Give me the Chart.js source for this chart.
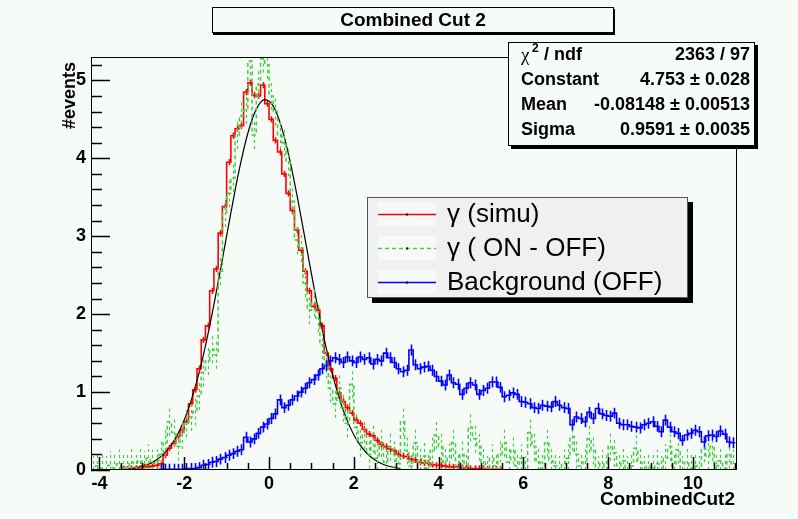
<!DOCTYPE html>
<html>
<head>
<meta charset="utf-8">
<script src="https://cdn.jsdelivr.net/npm/chart.js@4.4.0/dist/chart.umd.min.js"></script>
<style>
    html, body { margin: 0; padding: 0; background: #f7fbf8; }
</style>
</head>
<body>
<canvas id="combinedCut" width="798" height="519"></canvas>
<script>
// histogram binning (CombinedCut2)
var binW = 0.1;
var xMin = -4.2, xMax = 11.04;
var yMin = 0, yMax = 5.3;

// gamma (simu), first bin starts at -3.5
var redStart = -3.5;
var redSimu = [
    0.01, 0.01, 0.02, 0.02, 0.02, 0.04, 0.04, 0.05, 0.06, 0.08,
    0.19, 0.28, 0.34, 0.43, 0.51, 0.62, 0.85, 1.03, 1.30, 1.67,
    1.85, 2.30, 2.58, 3.04, 3.38, 3.95, 4.29, 4.38, 4.42, 4.85,
    4.97, 4.81, 4.80, 4.94, 4.70, 4.50, 4.23, 4.08, 3.80, 3.55,
    3.33, 3.08, 2.82, 2.55, 2.30, 2.10, 2.05, 1.85, 1.50, 1.30,
    1.18, 0.98, 0.88, 0.80, 0.73, 0.64, 0.60, 0.52, 0.46, 0.44,
    0.38, 0.33, 0.30, 0.27, 0.25, 0.20, 0.18, 0.17, 0.14, 0.13,
    0.10, 0.09, 0.09, 0.07, 0.06, 0.06, 0.05, 0.04, 0.04, 0.04,
    0.03, 0.03, 0.02, 0.02, 0.02, 0.02, 0.01, 0.01, 0.01, 0.01
];
var redErr = 0.04;

// gamma (ON - OFF), first bin starts at -4.2
var greenStart = -4.2;
var greenOnOff = [
    0.00, 0.05, 0.02, 0.00, 0.06, 0.03, 0.08, 0.02, 0.05, 0.10,
    0.04, 0.12, 0.06, 0.15, 0.08, 0.12, 0.20, 0.35, 0.62, 0.48,
    0.30, 0.45, 0.60, 0.68, 0.75, 0.95, 1.25, 1.40, 1.55, 1.48,
    2.55, 3.30, 3.55, 3.75, 4.30, 4.55, 4.62, 5.25, 4.30, 4.95,
    5.28, 5.20, 4.80, 4.60, 4.30, 4.20, 3.95, 3.45, 2.95, 2.85,
    2.40, 2.05, 2.15, 1.95, 1.60, 1.35, 1.05, 0.85, 1.05, 0.80,
    0.60, 1.10, 0.55, 0.35, 0.45, 0.20, 0.40, 0.15, 0.35, 0.10,
    0.30, 0.20, 0.08, 0.62, 0.25, 0.05, 0.35, 0.10, 0.18, 0.02,
    0.25, 0.45, 0.30, 0.10, 0.15, 0.35, 0.05, 0.20, 0.02, 0.55,
    0.40, 0.30, 0.10, 0.00, 0.15, 0.05, 0.20, 0.35, 0.10, 0.25,
    0.05, 0.15, 0.00, 0.48, 0.30, 0.10, 0.02, 0.35, 0.12, 0.05,
    0.00, 0.08, 0.15, 0.43, 0.20, 0.05, 0.10, 0.40, 0.25, 0.00,
    0.08, 0.02, 0.30, 0.22, 0.05, 0.12, 0.00, 0.05, 0.28, 0.10,
    0.00, 0.05, 0.02, 0.08, 0.00, 0.15, 0.30, 0.05, 0.26, 0.00,
    0.10, 0.02, 0.05, 0.00, 0.28, 0.18, 0.30, 0.05, 0.12, 0.02,
    0.20, 0.08
];
var greenErr = 0.18;

// Background (OFF), first bin starts at -2.6
var blueStart = -2.6;
var blueOff = [
    0.01, 0.01, 0.01, 0.01, 0.01, 0.01, 0.02, 0.02, 0.02, 0.03,
    0.06, 0.07, 0.10, 0.11, 0.14, 0.16, 0.19, 0.21, 0.24, 0.26,
    0.42, 0.36, 0.40, 0.47, 0.55, 0.59, 0.66, 0.72, 0.90, 0.80,
    0.83, 0.90, 0.95, 1.00, 1.05, 1.12, 1.16, 1.22, 1.30, 1.34,
    1.40, 1.44, 1.42, 1.38, 1.45, 1.40, 1.38, 1.45, 1.42, 1.44,
    1.36, 1.42, 1.40, 1.50, 1.44, 1.38, 1.30, 1.26, 1.28, 1.54,
    1.35, 1.30, 1.32, 1.33, 1.28, 1.20, 1.14, 1.09, 1.22, 1.12,
    1.10, 0.97, 1.05, 1.12, 1.09, 0.97, 1.02, 1.05, 1.13, 1.13,
    1.06, 0.94, 0.96, 0.99, 0.97, 0.88, 0.87, 0.85, 0.80, 0.79,
    0.83, 0.82, 0.81, 0.88, 0.83, 0.80, 0.79, 0.58, 0.68, 0.66,
    0.62, 0.74, 0.66, 0.79, 0.72, 0.70, 0.69, 0.73, 0.60, 0.58,
    0.58, 0.56, 0.55, 0.54, 0.58, 0.60, 0.62, 0.56, 0.49, 0.64,
    0.55, 0.49, 0.47, 0.38, 0.45, 0.47, 0.51, 0.49, 0.36, 0.44,
    0.45, 0.43, 0.50, 0.46, 0.36, 0.35
];
var blueErr = 0.07;

// gaussian fit curve
var fitX = [-3.3, -3.1, -2.9, -2.7, -2.5, -2.3, -2.1, -1.9, -1.7, -1.5, -1.3, -1.1, -0.9,
            -0.7, -0.5, -0.3, -0.1, 0.1, 0.3, 0.5, 0.7, 0.9, 1.1, 1.3, 1.5, 1.7, 1.9,
            2.1, 2.3, 2.5, 2.7, 2.9, 3.1];
var fitY = [0.017, 0.034, 0.063, 0.114, 0.198, 0.327, 0.519, 0.788, 1.144, 1.592, 2.121, 2.705, 3.302,
            3.861, 4.321, 4.631, 4.752, 4.669, 4.391, 3.955, 3.410, 2.816, 2.226, 1.685, 1.221, 0.847, 0.563,
            0.358, 0.218, 0.127, 0.071, 0.038, 0.019];

var xMajor = [-4, -2, 0, 2, 4, 6, 8, 10];
var xMinorStep = 0.5;
var yMinorStep = 0.2;

var chartTitle = 'Combined Cut 2';
var xTitle = 'CombinedCut2';
var yTitle = '#events';
var statNames = ['Constant', 'Mean', 'Sigma'];
var statValues = ['2363 / 97', '4.753 \u00b1 0.028', '-0.08148 \u00b1 0.00513', '0.9591 \u00b1 0.0035'];
var legendLabels = ['\u03b3 (simu)', '\u03b3 ( ON - OFF)', 'Background (OFF)'];

var bg = '#f7fbf8';
var sans = '"Liberation Sans", Arial, sans-serif';

function histPoints(start, vals) {
    var pts = [];
    for (var i = 0; i < vals.length; i++) {
        pts.push({x: start + i * binW, y: vals[i]});
    }
    pts.push({x: start + vals.length * binW, y: vals[vals.length - 1]});
    return pts;
}

var fitPoints = fitX.map(function(x, i) { return {x: x, y: fitY[i]}; });

// background of the whole pad
var padBackground = {
    id: 'padBackground',
    beforeDraw: function(chart) {
        var ctx = chart.ctx;
        ctx.save();
        ctx.fillStyle = bg;
        ctx.fillRect(0, 0, chart.width, chart.height);
        ctx.restore();
    }
};

// vertical error bars at the bin centres
var errorBars = {
    id: 'errorBars',
    afterDatasetsDraw: function(chart) {
        var ctx = chart.ctx, xs = chart.scales.x, ys = chart.scales.y, a = chart.chartArea;
        ctx.save();
        ctx.beginPath();
        ctx.rect(a.left, a.top, a.right - a.left, a.bottom - a.top);
        ctx.clip();
        chart.data.datasets.forEach(function(ds) {
            if (!ds.errHalf) return;
            ctx.strokeStyle = ds.borderColor;
            ctx.lineWidth = ds.borderDash ? 1.2 : ds.borderWidth;
            ctx.setLineDash(ds.borderDash ? [3, 3] : []);
            ctx.beginPath();
            ds.binValues.forEach(function(v, i) {
                var px = Math.round(xs.getPixelForValue(ds.binStart + (i + 0.5) * binW)) + 0.5;
                ctx.moveTo(px, ys.getPixelForValue(Math.max(0, v - ds.errHalf)));
                ctx.lineTo(px, ys.getPixelForValue(v + ds.errHalf));
            });
            ctx.stroke();
        });
        ctx.restore();
    }
};

// ROOT style frame, inner ticks, titles, stats box and legend
var rootDecor = {
    id: 'rootDecor',
    afterDraw: function(chart) {
        var ctx = chart.ctx, xs = chart.scales.x, ys = chart.scales.y, a = chart.chartArea;
        ctx.save();
        ctx.strokeStyle = '#000';
        ctx.lineWidth = 1;
        ctx.setLineDash([]);
        ctx.strokeRect(Math.round(a.left) + 0.5, Math.round(a.top) + 0.5,
            Math.round(a.right - a.left) - 1, Math.round(a.bottom - a.top) - 1);

        // x ticks
        ctx.lineWidth = 1.5;
        ctx.beginPath();
        for (var v = -4; v <= xMax; v += xMinorStep) {
            var px = Math.round(xs.getPixelForValue(v)) + 0.5;
            var major = xMajor.indexOf(Math.round(v * 10) / 10) >= 0;
            ctx.moveTo(px, a.bottom);
            ctx.lineTo(px, a.bottom - (major ? 13 : 7));
        }
        // y ticks
        for (var k = 0; k * yMinorStep <= yMax; k++) {
            var py = Math.round(ys.getPixelForValue(k * yMinorStep)) + 0.5;
            ctx.moveTo(a.left, py);
            ctx.lineTo(a.left + (k % 5 === 0 ? 19 : 11), py);
        }
        ctx.stroke();

        // axis titles
        ctx.fillStyle = '#000';
        ctx.font = 'bold 19px ' + sans;
        ctx.textAlign = 'right';
        ctx.textBaseline = 'middle';
        ctx.fillText(xTitle, 735, 500);
        ctx.save();
        ctx.translate(70, 62);
        ctx.rotate(-Math.PI / 2);
        ctx.font = 'bold 18px ' + sans;
        ctx.fillText(yTitle, 0, 0);
        ctx.restore();

        // title box
        ctx.fillStyle = '#000';
        ctx.fillRect(213, 9, 402, 26);
        ctx.fillStyle = bg;
        ctx.fillRect(212, 7, 401, 26);
        ctx.lineWidth = 1;
        ctx.strokeRect(212.5, 7.5, 401, 25);
        ctx.fillStyle = '#000';
        ctx.font = 'bold 19px ' + sans;
        ctx.textAlign = 'center';
        ctx.fillText(chartTitle, 413, 21);

        // stats box
        ctx.fillStyle = '#000';
        ctx.fillRect(511, 45, 247, 104);
        ctx.fillStyle = bg;
        ctx.fillRect(508, 42, 247, 104);
        ctx.strokeRect(508.5, 42.5, 246, 103);
        ctx.fillStyle = '#000';
        ctx.textAlign = 'left';
        ctx.font = '19px "Liberation Serif", serif';
        ctx.fillText('\u03c7', 521, 56);
        ctx.font = 'bold 12px ' + sans;
        ctx.fillText('2', 532, 49);
        ctx.font = 'bold 18px ' + sans;
        ctx.fillText(' / ndf', 539, 55);
        statNames.forEach(function(name, i) {
            ctx.fillText(name, 521, 80 + i * 25);
        });
        ctx.textAlign = 'right';
        statValues.forEach(function(val, i) {
            ctx.fillText(val, 750, 55 + i * 25);
        });

        // legend
        ctx.fillStyle = '#000';
        ctx.fillRect(372, 202, 321, 101);
        ctx.fillStyle = '#f0f0f0';
        ctx.fillRect(367, 197, 321, 101);
        ctx.strokeStyle = '#555';
        ctx.strokeRect(367.5, 197.5, 320, 100);
        var rows = [214, 248, 282];
        var dsOrder = [1, 2, 3];
        ctx.textAlign = 'left';
        ctx.font = '26px ' + sans;
        rows.forEach(function(ry, i) {
            var ds = chart.data.datasets[dsOrder[i]];
            ctx.fillStyle = '#f8f8f8';
            ctx.fillRect(378, ry - 12, 58, 24);
            ctx.strokeStyle = ds.borderColor;
            ctx.lineWidth = 1.5;
            ctx.setLineDash(ds.borderDash || []);
            ctx.beginPath();
            ctx.moveTo(378, ry + 0.5);
            ctx.lineTo(436, ry + 0.5);
            ctx.stroke();
            ctx.setLineDash([]);
            ctx.fillStyle = '#000';
            ctx.fillRect(406, ry - 0.5, 2, 2);
            ctx.fillText(legendLabels[i], 447, ry + 1);
        });
        ctx.restore();
    }
};

var ctx = document.getElementById('combinedCut').getContext('2d');
var combinedChart = new Chart(ctx, {
    type: 'line',
    data: {
        datasets: [{
            label: 'fit',
            data: fitPoints,
            borderColor: '#000000',
            borderWidth: 1.2,
            cubicInterpolationMode: 'monotone',
            pointRadius: 0,
            order: 2
        }, {
            label: legendLabels[0],
            data: histPoints(redStart, redSimu),
            binStart: redStart,
            binValues: redSimu,
            errHalf: redErr,
            borderColor: '#ff0000',
            borderWidth: 1.6,
            stepped: 'before',
            pointRadius: 0,
            order: 3
        }, {
            label: legendLabels[1],
            data: histPoints(greenStart, greenOnOff),
            binStart: greenStart,
            binValues: greenOnOff,
            errHalf: greenErr,
            borderColor: '#44cc44',
            borderWidth: 1.5,
            borderDash: [4, 3],
            stepped: 'before',
            pointRadius: 0,
            order: 1
        }, {
            label: legendLabels[2],
            data: histPoints(blueStart, blueOff),
            binStart: blueStart,
            binValues: blueOff,
            errHalf: blueErr,
            borderColor: '#0000ff',
            borderWidth: 1.6,
            stepped: 'before',
            pointRadius: 0,
            order: 4
        }]
    },
    options: {
        responsive: false,
        animation: false,
        layout: { padding: { top: 57, right: 61, left: 0, bottom: 0 } },
        plugins: {
            legend: { display: false },
            tooltip: { enabled: false }
        },
        scales: {
            x: {
                type: 'linear',
                min: xMin,
                max: xMax,
                grid: { display: false, drawTicks: false },
                border: { display: false },
                ticks: {
                    stepSize: 2,
                    includeBounds: false,
                    autoSkip: false,
                    maxRotation: 0,
                    padding: 3,
                    color: '#000',
                    font: { family: sans, weight: 'bold', size: 18 }
                },
                afterFit: function(scale) { scale.height = 49; }
            },
            y: {
                type: 'linear',
                min: yMin,
                max: yMax,
                grid: { display: false, drawTicks: false },
                border: { display: false },
                ticks: {
                    stepSize: 1,
                    includeBounds: false,
                    padding: 5,
                    color: '#000',
                    font: { family: sans, weight: 'bold', size: 18 }
                },
                afterFit: function(scale) { scale.width = 91; }
            }
        }
    },
    plugins: [padBackground, errorBars, rootDecor]
});
</script>
</body>
</html>
